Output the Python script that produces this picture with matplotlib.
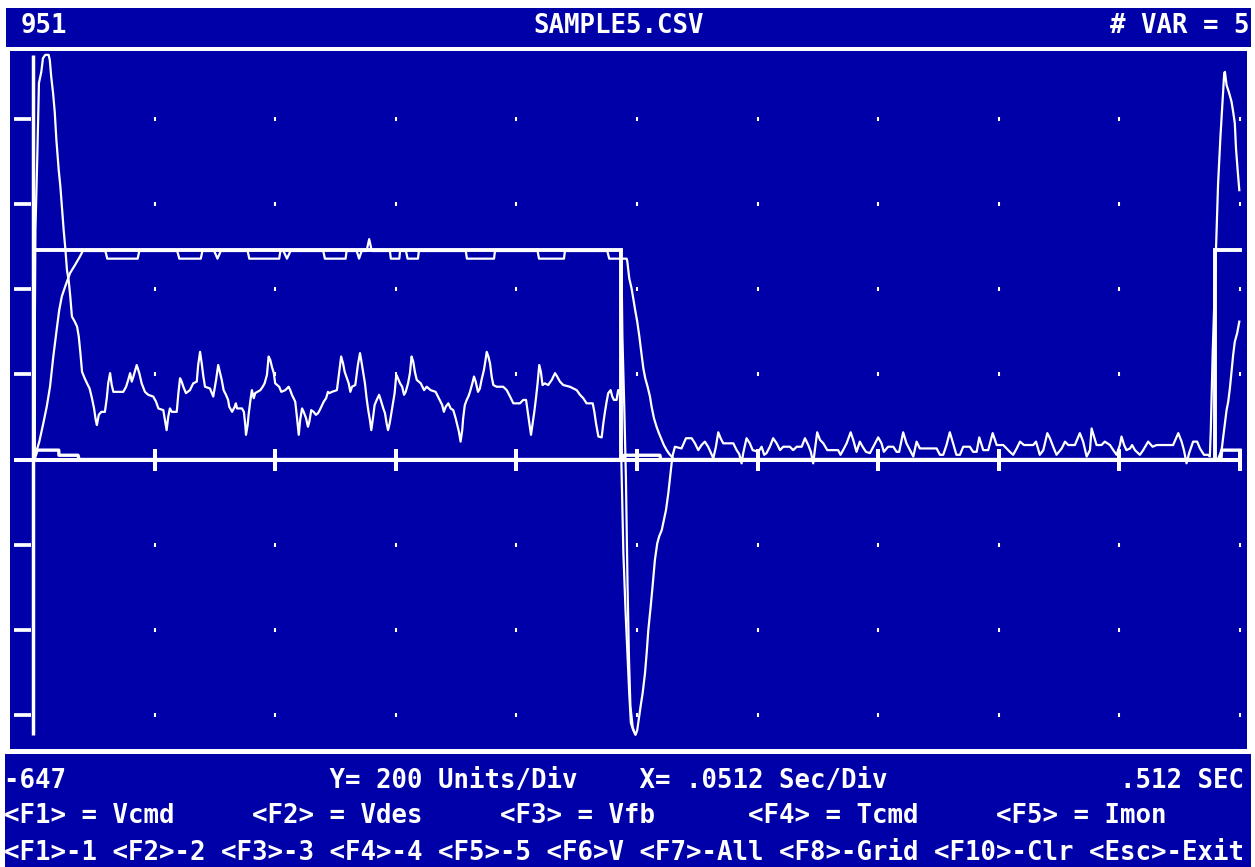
import matplotlib
matplotlib.use("Agg")
import matplotlib.pyplot as plt
from matplotlib.patches import Rectangle

# ---------------- data (time in ms, values in units) ----------------
X_DIV_MS = 51.2          # .0512 Sec/Div
Y_DIV = 200              # 200 Units/Div
N_XDIV = 10
GRID_LEVELS = [800, 600, 400, 200, -200, -400, -600]
Y_MIN, Y_MAX = -647, 951
T_END = 512.0

# Vcmd : square command
VCMD_T = [0, 0, 249.0, 249.0, 501.3, 501.3, 512.0]
VCMD_V = [0, 492, 492, 0, 0, 492, 492]

# Vdes : rate limited profile
VDES_T = [0, 2.25, 3.95, 5.4, 6.8, 8.2, 9.6, 10.7, 11.8, 13.2,
          15.3, 17.4, 19.5, 20.7,
          30.3, 31.1, 44.0, 44.7, 60.8, 61.7, 70.8, 71.5,
          76.5, 77.9, 79.3, 90.7, 91.4, 104.1, 104.6,
          105.9, 107.4, 108.9, 122.8, 123.5, 132.3, 132.7,
          137.0, 138.0, 139.1, 141.2, 142.3, 143.4,
          151.1, 151.5, 155.1, 155.4, 157.9, 158.6, 163.0, 163.4,
          183.3, 183.8, 195.3, 195.7, 213.8, 214.4, 225.0, 225.4,
          243.4, 244.2, 251.6,
          251.9, 252.7, 253.7, 254.4, 255.1, 256.1, 257.0, 257.8, 258.7, 259.5,
          260.5, 261.5, 262.2, 263.2, 264.3, 265.3, 266.5, 267.4, 268.6, 269.7,
          270.7, 271.7,
          502.6, 504.2, 504.9, 505.6, 506.3, 507.0, 507.7, 508.4, 509.1, 509.8,
          510.8, 511.7]
VDES_V = [0, 42, 85, 124, 171, 242, 304, 351, 383, 406,
          438, 457, 477, 490,
          490, 472, 472, 490, 490, 472, 472, 490,
          490, 472, 490, 490, 472, 472, 490,
          490, 472, 490, 490, 472, 472, 490,
          490, 472, 490, 490, 518, 490,
          490, 472, 472, 490, 490, 472, 472, 490,
          490, 472, 472, 490, 490, 472, 472, 490,
          490, 472, 472,
          465, 426, 402, 379, 355, 324, 289, 253, 214, 191,
          171, 148, 124, 97, 77, 62, 46, 34, 22, 13,
          7, 0,
          0, 22, 54, 85, 116, 136, 167, 206, 246, 277,
          297, 324]

# Vfb : visible part of the feedback where it leaves the others
VFB_T = [248.9, 249.4, 249.8, 250.6, 251.3, 252.0, 252.6, 253.2, 254.2, 255.2]
VFB_V = [490, 464, 288, 123, -45, -300, -470, -580, -630, -645]

# Tcmd : torque command
TCMD_T = [0, 0.6, 1.4, 2.1, 3.1, 3.8, 4.8, 6.2, 6.7, 7.3,
          8.1, 8.8, 9.5, 10.5, 11.2, 11.9, 12.6, 13.3, 14.0, 14.7,
          15.4, 16.1, 17.3, 18.3, 19.0, 19.7, 20.4, 21.5, 22.5, 23.6,
          24.6, 25.5, 26.2, 26.7, 27.5, 28.6, 30.1, 30.9, 31.5, 32.3,
          33.0, 33.7, 37.9, 39.1, 40.0, 40.8, 41.5, 42.2, 43.6, 44.7,
          45.7, 47.1, 48.5, 50.6, 51.8, 52.8, 54.9, 55.6, 56.3, 57.0,
          57.7, 58.5, 60.6, 61.3, 62.0, 62.7, 63.4, 64.5, 66.2, 67.6,
          69.1, 69.7, 70.5, 71.2, 71.9, 72.6, 74.7, 76.1, 77.3, 78.2,
          79.0, 79.7, 80.5, 81.5, 82.4, 82.9, 84.1, 85.2, 85.7, 86.2,
          88.3, 89.1, 89.7, 90.0, 90.7, 91.1, 91.8, 92.5, 93.3, 93.9,
          96.1, 97.1, 97.9, 98.9, 99.6, 100.3, 101.0, 101.8, 102.4, 104.1,
          105.0, 106.7, 108.1, 108.8, 109.5, 110.9, 111.6, 112.4, 113.0, 113.8,
          114.5, 115.5, 116.3, 116.9, 117.7, 118.7, 119.7, 120.6, 121.3, 122.3,
          123.0, 124.0, 124.8, 125.4, 126.5, 128.6, 129.6, 130.4, 131.2, 131.9,
          132.6, 133.6, 134.3, 135.0, 136.4, 137.5, 138.4, 138.9, 139.8, 140.5,
          141.2, 141.9, 142.6, 143.2, 143.9, 144.6, 145.5, 146.5, 147.2, 148.3,
          149.0, 149.7, 150.3, 151.0, 151.7, 152.4, 153.1, 153.8, 154.5, 155.4,
          156.3, 157.1, 157.8, 158.8, 159.6, 160.3, 161.0, 161.7, 162.5, 164.2,
          165.6, 166.7, 168.4, 170.5, 171.5, 172.6, 173.3, 174.0, 174.8, 175.9,
          176.9, 178.0, 179.0, 179.7, 180.4, 181.1, 181.8, 182.2, 182.9, 183.7,
          184.4, 185.1, 186.1, 186.8, 187.5, 188.5, 189.3, 190.0, 191.0, 191.7,
          192.2, 192.9, 193.6, 194.3, 195.0, 196.4, 199.2, 200.7, 202.1, 203.5,
          206.3, 207.7, 208.9, 209.6, 210.3, 211.0, 211.7, 212.4, 213.1, 213.8,
          214.5, 215.2, 215.9, 216.9, 218.3, 219.8, 221.2, 222.1, 223.3, 224.7,
          227.5, 228.9, 230.4, 231.8, 233.2, 234.6, 237.2, 237.9, 238.6, 239.6,
          241.0, 241.7, 242.4, 243.1, 243.8, 244.8, 245.5, 246.2, 247.3, 248.0,
          248.7, 249.5, 250.2, 251.2, 252.0, 252.7, 253.4, 254.4, 255.4, 256.1,
          256.9, 257.5, 258.4, 259.4, 260.1, 260.8, 261.8, 262.6, 263.6, 264.6,
          265.4, 266.5, 267.4, 268.3, 268.8, 269.3, 270.0, 270.7, 271.2, 272.1,
          274.9, 276.8, 279.2, 280.6, 282.0, 283.4, 284.8, 286.2, 287.4, 288.4,
          289.5, 290.5, 291.5, 292.6, 296.9, 298.3, 299.4, 300.4, 301.1, 302.5,
          303.9, 305.1, 307.5, 308.9, 310.0, 311.0, 312.4, 313.8, 315.3, 316.7,
          318.1, 320.9, 322.3, 323.8, 325.9, 327.3, 328.7, 329.8, 330.8, 331.5,
          332.5, 333.7, 335.1, 336.8, 341.4, 342.4, 343.5, 345.0, 346.7, 347.8,
          349.2, 350.6, 351.8, 353.2, 354.9, 356.3, 358.4, 359.8, 360.8, 362.6,
          364.8, 366.2, 367.3, 369.0, 370.4, 371.9, 373.3, 374.7, 376.1, 379.6,
          383.2, 384.6, 386.0, 387.4, 388.8, 390.2, 391.6, 393.1, 394.5, 397.3,
          398.7, 400.2, 401.3, 403.0, 405.1, 407.0, 408.7, 411.5, 414.3, 415.7,
          417.2, 418.6, 420.3, 424.2, 425.4, 427.0, 428.5, 430.2, 431.3, 432.7,
          434.1, 436.3, 437.7, 439.1, 441.9, 444.0, 445.4, 446.9, 448.3, 449.0,
          450.0, 451.1, 453.2, 454.6, 456.8, 458.2, 459.6, 461.0, 461.7, 462.8,
          463.8, 465.3, 466.2, 467.4, 469.5, 470.9, 473.0, 474.9, 476.6, 483.6,
          485.8, 487.2, 488.2, 489.3, 490.4, 492.1, 493.8, 495.0, 496.7, 498.5,
          499.2, 499.6, 500.4, 501.3, 502.0, 502.7, 503.7, 504.6, 505.3, 505.6,
          506.3, 507.4, 508.4, 509.1, 509.8, 510.3, 511.0, 511.7]
TCMD_V = [0, 539, 712, 885, 911, 943, 951, 951, 939, 900,
          861, 817, 751, 680, 641, 590, 539, 496, 445, 422,
          383, 336, 324, 312, 289, 250, 206, 191, 179, 167,
          144, 120, 93, 81, 105, 112, 112, 144, 179, 203,
          175, 159, 159, 171, 187, 203, 183, 195, 222, 203,
          179, 159, 152, 148, 136, 120, 116, 93, 69, 101,
          120, 112, 112, 156, 191, 183, 171, 156, 163, 179,
          183, 222, 253, 226, 195, 171, 167, 148, 187, 222,
          203, 187, 163, 152, 140, 124, 112, 124, 132, 120,
          120, 112, 81, 58, 81, 105, 136, 163, 144, 156,
          163, 171, 179, 199, 242, 234, 218, 203, 179, 171,
          159, 163, 171, 163, 152, 136, 101, 58, 93, 120,
          112, 97, 77, 89, 116, 112, 105, 109, 116, 128,
          136, 144, 159, 156, 159, 163, 206, 242, 226, 206,
          195, 179, 159, 171, 175, 222, 250, 234, 203, 179,
          144, 116, 93, 69, 97, 128, 140, 152, 140, 120,
          109, 85, 69, 85, 109, 132, 156, 199, 191, 179,
          171, 152, 159, 179, 203, 242, 230, 206, 187, 179,
          163, 171, 163, 159, 148, 136, 128, 112, 124, 132,
          120, 116, 97, 81, 65, 42, 69, 97, 128, 140,
          148, 159, 179, 195, 183, 159, 167, 187, 210, 234,
          253, 242, 226, 195, 175, 171, 171, 163, 148, 132,
          132, 140, 140, 112, 85, 58, 85, 112, 144, 179,
          222, 206, 175, 179, 175, 187, 203, 195, 183, 175,
          171, 167, 163, 152, 144, 132, 132, 112, 85, 54,
          52, 85, 112, 136, 156, 163, 148, 140, 140, 163,
          163, -43, -217, -365, -466, -549, -619, -636, -647, -636,
          -604, -581, -549, -502, -455, -401, -346, -299, -236, -197,
          -181, -166, -142, -119, -99, -79, -44, -9, 11, 30,
          26, 50, 50, 38, 22, 34, 42, 30, 15, 3,
          30, 64, 50, 38, 38, 22, 13, -9, 15, 50,
          38, 22, 18, 30, 11, 15, 30, 50, 38, 22,
          30, 30, 22, 30, 30, 50, 34, 18, -9, 22,
          64, 46, 38, 22, 22, 11, 22, 38, 64, 46,
          18, 42, 30, 18, 15, 30, 52, 38, 18, 30,
          30, 18, 18, 64, 38, 22, 7, 42, 26, 26,
          26, 11, 11, 34, 64, 38, 11, 11, 30, 30,
          18, 18, 52, 22, 22, 62, 34, 34, 18, 11,
          26, 42, 34, 34, 42, 11, 22, 62, 50, 30,
          11, 26, 42, 34, 34, 62, 42, 7, 22, 73,
          54, 34, 34, 42, 34, 22, 11, 34, 54, 34,
          22, 26, 34, 22, 11, 22, 42, 30, 34, 34,
          62, 42, 22, -9, 15, 42, 42, 26, 11, 11,
          7, 69, 250, 406, 524, 649, 759, 841, 908, 911,
          880, 861, 841, 817, 790, 731, 680, 633]

# Imon : current monitor (small near zero)
IMON_T = [0, 1.3, 10.5, 10.6, 18.7, 19.1, 250.5, 250.6, 265.7, 266.1, 503.9, 504.2, 512.0]
IMON_V = [0, 22, 22, 10, 10, 0, 0, 10, 10, 0, 0, 22, 22]

# ---------------- texts ----------------
TOP_LEFT = "951"
TOP_CENTER = "SAMPLE5.CSV"
TOP_RIGHT = "# VAR = 5"
LINE1 = "-647".ljust(21) + "Y= 200 Units/Div".ljust(20) + "X= .0512 Sec/Div".ljust(31) + ".512 SEC"
LEGEND = ["<F1> = Vcmd", "<F2> = Vdes", "<F3> = Vfb", "<F4> = Tcmd", "<F5> = Imon"]
LINE2 = "".join(s.ljust(16) for s in LEGEND).rstrip()
LINE3 = "<F1>-1 <F2>-2 <F3>-3 <F4>-4 <F5>-5 <F6>V <F7>-All <F8>-Grid <F10>-Clr <Esc>-Exit"

# ---------------- layout / style ----------------
BLUE = "#0000A8"
FG = "white"
W, H = 1255, 867
PX_PER_MS = 120.6 / 51.2
PX_PER_UNIT = 85.1 / 200.0
X0_PX, Y0_PX = 34.0, 459.5

fig = plt.figure(figsize=(W / 100, H / 100), dpi=100)
fig.patch.set_facecolor("white")


def frect(x0, y0, x1, y1):
    return (x0 / W, 1 - y1 / H, (x1 - x0) / W, (y1 - y0) / H)


for box in [(6, 8, 1251, 46.7), (5, 753.5, 1251, 867)]:
    x, y, w, h = frect(*box)
    fig.patches.append(Rectangle((x, y), w, h, transform=fig.transFigure,
                                 facecolor=BLUE, edgecolor="none", zorder=0))

PL, PT, PR, PB = 10, 51, 1247, 749
ax = fig.add_axes(frect(PL, PT, PR, PB))
ax.set_facecolor(BLUE)
for s in ax.spines.values():
    s.set_visible(False)
ax.set_xticks([])
ax.set_yticks([])
ax.set_xlim((PL - X0_PX) / PX_PER_MS, (PR - X0_PX) / PX_PER_MS)
ax.set_ylim((Y0_PX - PB) / PX_PER_UNIT, (Y0_PX - PT) / PX_PER_UNIT)

ms_per_px = 1 / PX_PER_MS
u_per_px = 1 / PX_PER_UNIT

# axes: zero line, vertical axis, ticks, grid dots
ax.plot([-20 * ms_per_px, T_END], [0, 0], color=FG, lw=2.9, solid_capstyle="butt")
ax.plot([-0.4, -0.4], [Y_MIN, Y_MAX], color=FG, lw=2.5, solid_capstyle="butt")
ax.hlines(GRID_LEVELS, -20 * ms_per_px, -3 * ms_per_px, color=FG, lw=2.7)
xt = [k * X_DIV_MS for k in range(1, N_XDIV + 1)]
ax.vlines(xt, -11 * u_per_px, 11 * u_per_px, color=FG, lw=2.9)
for lv in GRID_LEVELS:
    ax.vlines(xt, lv - 2 * u_per_px, lv + 2 * u_per_px, color=FG, lw=1.5)

# traces
ax.plot(VCMD_T, VCMD_V, color=FG, lw=2.8, solid_joinstyle="miter")
ax.plot(VDES_T, VDES_V, color=FG, lw=1.6)
ax.plot(VFB_T, VFB_V, color=FG, lw=1.6)
ax.plot(TCMD_T, TCMD_V, color=FG, lw=1.6)
ax.plot(IMON_T, IMON_V, color=FG, lw=2.4)

# texts
tk = dict(color=FG, family="DejaVu Sans Mono", weight="bold", fontsize=18.5, va="baseline")


def ftext(x, y, s, **kw):
    fig.text(x / W, 1 - y / H, s, **{**tk, **kw})


ftext(21, 33, TOP_LEFT, ha="left")
ftext(619, 33, TOP_CENTER, ha="center")
ftext(1249, 33, TOP_RIGHT, ha="right")
ftext(4, 788, LINE1, ha="left")
ftext(4, 823, LINE2, ha="left")
ftext(4, 860, LINE3, ha="left")

fig.savefig("out.png", dpi=100, facecolor=fig.get_facecolor())
